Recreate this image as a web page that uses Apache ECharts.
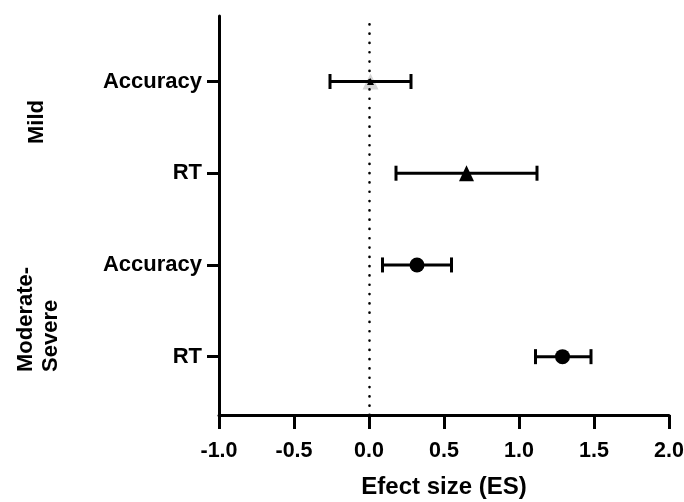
<!DOCTYPE html>
<html>
<head>
<meta charset="utf-8">
<script src="https://cdn.jsdelivr.net/npm/echarts@6/dist/echarts.min.js"></script>
<style>html,body{margin:0;padding:0;background:#fff;}#c{width:684px;height:502px;}</style>
</head>
<body>
<div id="c"></div>
<script>
// Rows from top to bottom
const rowLabels = ['Accuracy', 'RT', 'Accuracy', 'RT'];
const rowPos = [4, 3, 2, 1];
const effect = [0.01, 0.65, 0.32, 1.29];
const lower = [-0.26, 0.18, 0.09, 1.11];
const upper = [0.28, 1.12, 0.55, 1.48];
const groupLabels = ['Mild', 'Moderate-\nSevere'];
const xTickMin = -1.0, xTickMax = 2.0, xTickStep = 0.5;
const xAxisTitle = 'Efect size (ES)';

const FONT = '"Liberation Sans", Arial, sans-serif';
const chart = echarts.init(document.getElementById('c'));

const barData = rowPos.map((y, i) => [y, lower[i], upper[i]]);
const grayTri = [[effect[0], rowPos[0]]];
const blackTri = [[effect[1], rowPos[1]]];
const circles = [[effect[2], rowPos[2]], [effect[3], rowPos[3]]];
const labelMap = {};
rowPos.forEach((p, i) => labelMap[p] = rowLabels[i]);

chart.setOption({
  animation: false,
  backgroundColor: '#fff',
  grid: { left: 219, right: 15, top: 16, bottom: 87, containLabel: false, outerBoundsMode: 'none' },
  xAxis: {
    type: 'value', min: xTickMin, max: xTickMax, interval: xTickStep,
    name: xAxisTitle, nameLocation: 'middle', nameGap: 60,
    nameTextStyle: { fontFamily: FONT, fontWeight: 'bold', fontSize: 24, color: '#000' },
    axisLine: { show: true, onZero: false, lineStyle: { color: '#000', width: 3 } },
    axisTick: { show: true, length: 14, lineStyle: { color: '#000', width: 3 } },
    axisLabel: { margin: 25, fontFamily: FONT, fontWeight: 'bold', fontSize: 21.5, color: '#000',
      formatter: v => v.toFixed(1) },
    splitLine: { show: false }
  },
  yAxis: {
    type: 'value', min: 0.364, max: 4.714,
    axisLine: { show: true, onZero: false, lineStyle: { color: '#000', width: 3 } },
    axisTick: { show: true, length: 12, customValues: rowPos, lineStyle: { color: '#000', width: 3 } },
    axisLabel: { show: true, customValues: rowPos, margin: 17, fontFamily: FONT, fontWeight: 'bold',
      fontSize: 22, color: '#000', formatter: v => labelMap[v] || '' },
    splitLine: { show: false }
  },
  graphic: [
    { type: 'text', x: 37, y: 122, rotation: Math.PI / 2,
      style: { text: groupLabels[0], fontFamily: FONT, fontWeight: 'bold', fontSize: 22, fill: '#000',
        textAlign: 'center', textVerticalAlign: 'middle' } },
    { type: 'text', x: 38, y: 372, rotation: Math.PI / 2,
      style: { text: groupLabels[1], fontFamily: FONT, fontWeight: 'bold', fontSize: 22, fill: '#000',
        lineHeight: 25, textAlign: 'left', textVerticalAlign: 'middle' } }
  ],
  series: [
    {
      type: 'line', data: [], silent: true,
      markLine: {
        silent: true, symbol: 'none', label: { show: false },
        lineStyle: { color: '#000', width: 2.6, type: [0.1, 9.2], cap: 'round', opacity: 1 },
        data: [{ xAxis: 0 }]
      }
    },
    {
      type: 'scatter', data: grayTri, symbol: 'triangle', symbolSize: [16, 16], z: 2,
      itemStyle: { color: '#d6d6d6', opacity: 1 }
    },
    {
      type: 'custom', z: 3, data: barData, encode: { x: [1, 2], y: 0 },
      renderItem: function (params, api) {
        const y = api.value(0), lo = api.value(1), hi = api.value(2);
        const a = api.coord([lo, y]), b = api.coord([hi, y]);
        const h = 7.5;
        const st = { stroke: '#000', lineWidth: 3 };
        return { type: 'group', children: [
          { type: 'line', shape: { x1: a[0], y1: a[1], x2: b[0], y2: b[1] }, style: st },
          { type: 'line', shape: { x1: a[0], y1: a[1] - h, x2: a[0], y2: a[1] + h }, style: st },
          { type: 'line', shape: { x1: b[0], y1: b[1] - h, x2: b[0], y2: b[1] + h }, style: st }
        ] };
      }
    },
    {
      type: 'scatter', data: [[effect[0], rowPos[0]]], symbol: 'triangle', symbolSize: [7, 7], z: 4,
      itemStyle: { color: '#000', opacity: 1 }
    },
    {
      type: 'scatter', data: blackTri, symbol: 'triangle', symbolSize: [15, 16], z: 4,
      itemStyle: { color: '#000', opacity: 1 }
    },
    {
      type: 'scatter', data: circles, symbol: 'circle', symbolSize: 15, z: 4,
      itemStyle: { color: '#000', opacity: 1 }
    }
  ]
});
</script>
</body>
</html>
